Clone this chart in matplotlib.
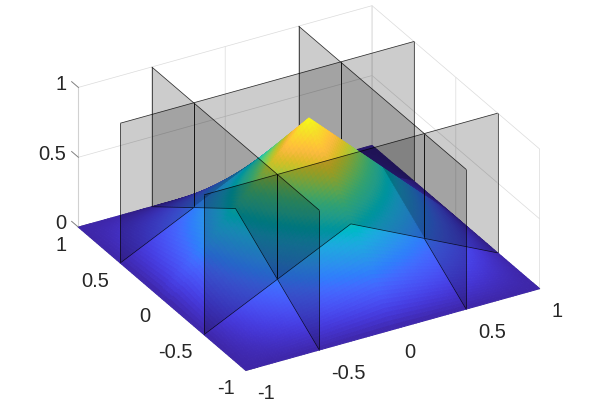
import numpy as np
import matplotlib
matplotlib.use("Agg")
import matplotlib.pyplot as plt
from matplotlib.colors import LinearSegmentedColormap
from matplotlib.transforms import Affine2D
from mpl_toolkits.mplot3d.art3d import Poly3DCollection

# ---- data ----
node_x = [-1, -0.5, 0, 0.5, 1]
node_y = [-1, -0.5, 0, 0.5, 1]
node_z = [[0, 0, 0, 0, 0],
          [0, 0.25, 0.5, 0.25, 0],
          [0, 0.5, 1, 0.5, 0],
          [0, 0.25, 0.5, 0.25, 0],
          [0, 0, 0, 0, 0]]
plane_positions = [-0.5, 0.5]
plane_top = 1
x_ticks = [-1, -0.5, 0, 0.5, 1]
y_ticks = [-1, -0.5, 0, 0.5, 1]
z_ticks = [0, 0.5, 1]
x_labels = ['-1', '-0.5', '0', '0.5', '1']
y_labels = ['-1', '-0.5', '0', '0.5', '1']
z_labels = ['0', '0.5', '1']

parula_table = [
 (0.2422,0.1504,0.6603),(0.2504,0.1650,0.7076),(0.2578,0.1818,0.7511),(0.2647,0.1978,0.7952),
 (0.2706,0.2147,0.8364),(0.2751,0.2342,0.8710),(0.2783,0.2559,0.8991),(0.2803,0.2782,0.9221),
 (0.2813,0.3006,0.9414),(0.2810,0.3228,0.9579),(0.2795,0.3447,0.9717),(0.2760,0.3667,0.9829),
 (0.2699,0.3892,0.9906),(0.2602,0.4123,0.9952),(0.2440,0.4358,0.9988),(0.2206,0.4603,0.9973),
 (0.1963,0.4847,0.9892),(0.1834,0.5074,0.9798),(0.1786,0.5289,0.9682),(0.1764,0.5499,0.9520),
 (0.1687,0.5703,0.9359),(0.1540,0.5902,0.9218),(0.1460,0.6091,0.9079),(0.1380,0.6276,0.8973),
 (0.1248,0.6459,0.8883),(0.1113,0.6635,0.8763),(0.0952,0.6798,0.8598),(0.0689,0.6948,0.8394),
 (0.0297,0.7082,0.8163),(0.0036,0.7203,0.7917),(0.0067,0.7312,0.7660),(0.0433,0.7411,0.7394),
 (0.0964,0.7500,0.7120),(0.1408,0.7584,0.6842),(0.1717,0.7670,0.6554),(0.1938,0.7758,0.6251),
 (0.2161,0.7843,0.5923),(0.2470,0.7918,0.5567),(0.2906,0.7973,0.5188),(0.3406,0.8008,0.4789),
 (0.3909,0.8029,0.4354),(0.4456,0.8024,0.3909),(0.5044,0.7993,0.3480),(0.5616,0.7942,0.3045),
 (0.6174,0.7876,0.2612),(0.6720,0.7793,0.2227),(0.7242,0.7698,0.1910),(0.7738,0.7598,0.1646),
 (0.8203,0.7498,0.1535),(0.8634,0.7406,0.1596),(0.9035,0.7330,0.1774),(0.9393,0.7288,0.2100),
 (0.9728,0.7298,0.2394),(0.9956,0.7434,0.2371),(0.9970,0.7659,0.2199),(0.9952,0.7893,0.2028),
 (0.9892,0.8136,0.1885),(0.9786,0.8386,0.1766),(0.9676,0.8639,0.1643),(0.9610,0.8890,0.1537),
 (0.9597,0.9135,0.1423),(0.9628,0.9373,0.1265),(0.9691,0.9606,0.1064),(0.9769,0.9839,0.0805)]

parula = LinearSegmentedColormap.from_list('parula', parula_table, N=512)
node_arr = np.array(node_z, dtype=float)


def shade_interp(px, py):
    """Interpolated shading between the read nodes (MATLAB 'shading interp')."""
    px, py = np.asarray(px, float), np.asarray(py, float)
    nx, ny = np.array(node_x, float), np.array(node_y, float)
    ix = np.clip(np.searchsorted(nx, px, side='right') - 1, 0, len(nx) - 2)
    iy = np.clip(np.searchsorted(ny, py, side='right') - 1, 0, len(ny) - 2)
    tx = (px - nx[ix]) / (nx[ix + 1] - nx[ix])
    ty = (py - ny[iy]) / (ny[iy + 1] - ny[iy])
    return (node_arr[iy, ix] * (1 - tx) * (1 - ty) + node_arr[iy, ix + 1] * tx * (1 - ty)
            + node_arr[iy + 1, ix] * (1 - tx) * ty + node_arr[iy + 1, ix + 1] * tx * ty)


plt.rcParams['font.family'] = ['Liberation Sans', 'DejaVu Sans']
plt.rcParams['grid.color'] = (0.86, 0.86, 0.86)
plt.rcParams['grid.linewidth'] = 0.5
plt.rcParams['axes3d.grid'] = True

W, H = 598, 420
fig = plt.figure(figsize=(W / 100, H / 100), dpi=100, facecolor='white')
SIDE = 489.5
ax = fig.add_axes([57.6 / W, -19.4 / H, SIDE / W, SIDE / H], projection='3d',
                  proj_type='ortho', computed_zorder=False)
ax.set_box_aspect((338, 338, 160))
ax.view_init(elev=29.2, azim=-119.7)
ax.set_xlim(-1, 1)
ax.set_ylim(-1, 1)
ax.set_zlim(0, 1)
ax.patch.set_alpha(0)

ax.set_xticks(x_ticks, x_labels)
ax.set_yticks(y_ticks, y_labels)
ax.set_zticks(z_ticks, z_labels)
TEXT = (0.15, 0.15, 0.15)
AXC = (0.5, 0.5, 0.5)


def offset_label(lab, dx, dy):
    """The 3D axis re-places its labels while drawing, so shift at the transform."""
    base = lab.get_transform
    off = Affine2D().translate(dx, dy)
    lab.get_transform = lambda: base() + off


# z ticks point along y, past the back wall, as in the reference
ax.zaxis._get_tickdir = lambda pos: 1

for axis, pad, ha, shift in ((ax.xaxis, 7, 'left', (-2, 0)),
                             (ax.yaxis, 7, 'right', (12.5, 0)),
                             (ax.zaxis, 2, 'right', (13.3, -0.2))):
    axis.set_pane_color((1, 1, 1, 0))
    axis.pane.set_edgecolor((0.86, 0.86, 0.86))
    axis.pane.set_linewidth(0.5)
    axis.line.set_color((0.82, 0.82, 0.82))
    axis.line.set_linewidth(0.8)
    axis.set_tick_params(labelsize=14.5, colors=TEXT, pad=pad, width=0.7, color=AXC)
    axis._axinfo['tick']['inward_factor'] = 0.0
    axis._axinfo['tick']['outward_factor'] = 0.5
    axis._axinfo['tick']['linewidth'] = {True: 0.7, False: 0.7}
    axis._axinfo['tick']['color'] = AXC
    for lab in axis.get_ticklabels():
        lab.set_ha(ha)
        lab.set_va('center')
        offset_label(lab, *shift)

# ---- back-to-front pieces: the planes cut the domain into 3x3 columns ----
bx = [node_x[0]] + plane_positions + [node_x[-1]]
by = [node_y[0]] + plane_positions + [node_y[-1]]
STEP = 0.02
LINE = dict(color='black', lw=0.55, alpha=0.8, solid_capstyle='butt')
TOP_RANK = -50      # drawn after every column, for cuts nothing stands in front of
NUDGE = -0.004      # half a pixel, keeps a cut line clear of the column in front


def zo(rank, extra=0.0):
    return 20 + (10 - rank) + extra


def samples(a, b):
    n = max(2, int(round((b - a) / STEP)) + 1)
    return np.linspace(a, b, n)


for i in range(3):
    for j in range(3):
        gx, gy = samples(bx[i], bx[i + 1]), samples(by[j], by[j + 1])
        X, Y = np.meshgrid(gx, gy)
        Z = shade_interp(X, Y)
        verts, vals = [], []
        for a in range(len(gy) - 1):
            for b in range(len(gx) - 1):
                q = [(X[a, b], Y[a, b], Z[a, b]), (X[a, b + 1], Y[a, b + 1], Z[a, b + 1]),
                     (X[a + 1, b + 1], Y[a + 1, b + 1], Z[a + 1, b + 1]),
                     (X[a + 1, b], Y[a + 1, b], Z[a + 1, b])]
                verts.append(q)
                vals.append(np.mean([p[2] for p in q]))
        cols = parula(np.array(vals))
        ax.add_collection3d(Poly3DCollection(verts, facecolors=cols, edgecolors=cols,
                                             linewidths=0.7, zorder=zo(2 * (i + j)),
                                             zsort='average'), autolim=False)

# planes x = const (front face of column i)
for i in (1, 2):
    c = bx[i]
    for j in range(3):
        a, b = by[j], by[j + 1]
        rank = 2 * (i + j) - 1
        ax.add_collection3d(Poly3DCollection(
            [[(c, a, 0), (c, b, 0), (c, b, plane_top), (c, a, plane_top)]],
            facecolors=(0, 0, 0, 0.2), edgecolors='none', zorder=zo(rank)), autolim=False)
        s = samples(a, b)
        free = (i == 1) or (j == 0)
        ax.plot(np.full_like(s, c), s, shade_interp(np.full_like(s, c), s) + (0 if free else NUDGE),
                zorder=zo(TOP_RANK if free else rank, 0.5), **LINE)
        ax.plot([c, c], [a, b], [plane_top, plane_top], zorder=zo(rank, 0.5), **LINE)
        for yy in (a, b):
            ax.plot([c, c], [yy, yy], [shade_interp(c, yy), plane_top], zorder=zo(rank, 0.5), **LINE)

# planes y = const (front face of column j)
for j in (1, 2):
    c = by[j]
    for i in range(3):
        a, b = bx[i], bx[i + 1]
        rank = 2 * (i + j) - 1
        ax.add_collection3d(Poly3DCollection(
            [[(a, c, 0), (b, c, 0), (b, c, plane_top), (a, c, plane_top)]],
            facecolors=(0, 0, 0, 0.2), edgecolors='none', zorder=zo(rank)), autolim=False)
        s = samples(a, b)
        free = (j == 1) or (i == 0)
        ax.plot(s, np.full_like(s, c), shade_interp(s, np.full_like(s, c)) + (0 if free else NUDGE),
                zorder=zo(TOP_RANK if free else rank, 0.5), **LINE)
        ax.plot([a, b], [c, c], [plane_top, plane_top], zorder=zo(rank, 0.5), **LINE)
        if i in (0, 2):
            xx = a if i == 0 else b
            ax.plot([xx, xx], [c, c], [shade_interp(xx, c), plane_top], zorder=zo(rank, 0.5), **LINE)

fig.savefig('out.png', dpi=100)
